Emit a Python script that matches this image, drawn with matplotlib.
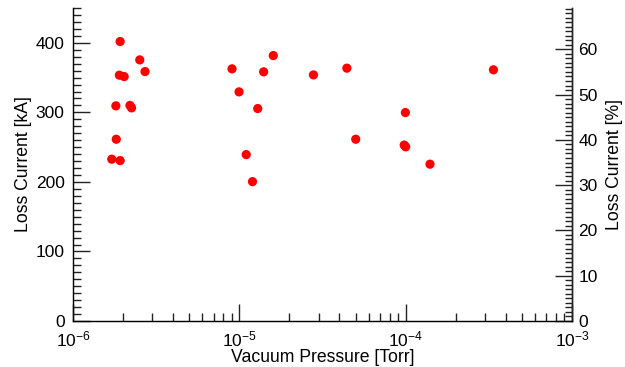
import math
import matplotlib
matplotlib.use("Agg")
import matplotlib.pyplot as plt
from matplotlib.ticker import FixedLocator, LogLocator, MultipleLocator, FuncFormatter

plt.rcParams["font.family"] = ["Liberation Sans", "DejaVu Sans"]
plt.rcParams["mathtext.fontset"] = "custom"
plt.rcParams["mathtext.rm"] = "Liberation Sans"
plt.rcParams["mathtext.default"] = "regular"

# Datos: presion de vacio [Torr] y corriente perdida [kA]
presion = [1.71e-6, 1.92e-6, 1.82e-6, 1.81e-6, 1.92e-6, 1.90e-6, 2.03e-6,
           2.20e-6, 2.25e-6, 2.52e-6, 2.71e-6, 9.04e-6, 9.96e-6, 1.10e-5,
           1.20e-5, 1.29e-5, 1.40e-5, 1.60e-5, 2.79e-5, 4.43e-5, 5.01e-5,
           9.80e-5, 1.00e-4, 9.96e-5, 1.40e-4, 3.37e-4]
corriente = [232.7, 230.7, 261.4, 309.4, 401.9, 353.5, 351.5,
             310.0, 306.5, 375.5, 358.7, 362.6, 329.5, 239.3,
             200.4, 305.5, 358.3, 381.7, 353.9, 363.6, 261.4,
             253.0, 250.5, 299.7, 225.5, 361.2]

ylim_ka = (0, 450)
ylim_pct = (0, 69.1)
xlim = (1e-6, 1e-3)

fig = plt.figure(figsize=(6.25, 3.67), dpi=100)
ax = fig.add_axes([0.1168, 0.1253, 0.7984, 0.8527])
ax.scatter(presion, corriente, s=44, color="#ff0000", edgecolors="none", zorder=3)

ax.set_xscale("log")
ax.set_xlim(*xlim)
ax.set_ylim(*ylim_ka)
ax.spines["top"].set_visible(False)
for s in ["left", "bottom", "right"]:
    ax.spines[s].set_linewidth(1.0)
    ax.spines[s].set_color("#222222")

ax.xaxis.set_major_locator(FixedLocator([1e-6, 1e-5, 1e-4, 1e-3]))
ax.xaxis.set_minor_locator(LogLocator(base=10, subs=range(2, 10), numticks=20))
ax.xaxis.set_major_formatter(FuncFormatter(lambda v, p: f"$10^{{{int(round(math.log10(v)))}}}$"))
ax.yaxis.set_major_locator(MultipleLocator(100))
ax.yaxis.set_minor_locator(MultipleLocator(10))

ax.tick_params(axis="both", which="major", direction="in", length=12, width=1,
               labelsize=12.5, color="#222222")
ax.tick_params(axis="both", which="minor", direction="in", length=6, width=1,
               color="#222222")
ax.tick_params(axis="x", which="major", pad=6)
ax.tick_params(axis="y", which="major", pad=6)

ax.set_xlabel("Vacuum Pressure [Torr]", fontsize=12.7, labelpad=0)
ax.set_ylabel("Loss Current [kA]", fontsize=12.7, labelpad=3)

ax2 = ax.twinx()
ax2.set_ylim(*ylim_pct)
ax2.spines["top"].set_visible(False)
ax2.spines["right"].set_linewidth(1.0)
ax2.spines["right"].set_color("#222222")
ax2.yaxis.set_major_locator(MultipleLocator(10))
ax2.yaxis.set_minor_locator(MultipleLocator(1))
ax2.tick_params(axis="y", which="major", direction="in", length=12, width=1,
                labelsize=12.5, color="#222222", pad=4.5)
ax2.tick_params(axis="y", which="minor", direction="in", length=5, width=1,
                color="#222222")
ax2.set_ylabel("Loss Current [%]", fontsize=12.7, labelpad=6)

fig.savefig("out.png", dpi=100)
